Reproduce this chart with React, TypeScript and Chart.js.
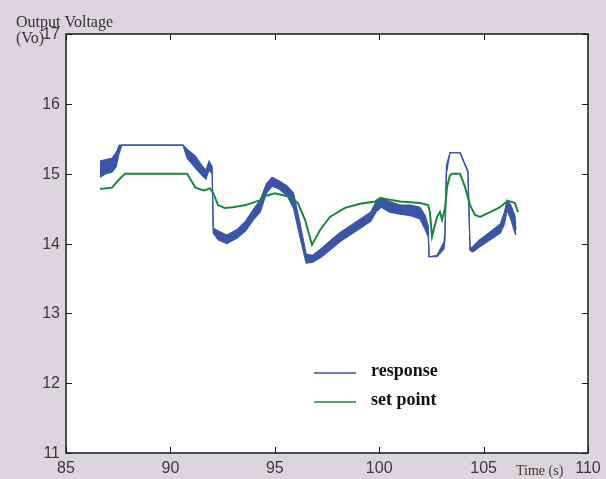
import React, { useEffect, useRef } from "react";
import { Chart, registerables } from "chart.js";

Chart.register(...registerables);

// Response (noisy band: lower / upper envelope)
const responseTime = [86.63, 86.9, 87.2, 87.4, 87.55, 87.68, 90.6, 90.8, 91.2, 91.5, 91.7, 91.85, 92.0, 92.05, 92.3, 92.7, 93.2, 93.6, 94.0, 94.3, 94.6, 94.87, 95.2, 95.6, 95.9, 96.2, 96.5, 96.8, 97.2, 97.7, 98.1, 98.6, 99.1, 99.6, 99.85, 100.1, 100.5, 101.0, 101.5, 101.95, 102.2, 102.35, 102.39, 102.77, 103.1, 103.15, 103.22, 103.39, 103.87, 104.25, 104.35, 104.5, 104.8, 105.3, 105.8, 106.0, 106.12, 106.3, 106.5, 106.55];
const responseLow = [14.95, 15.0, 15.02, 15.1, 15.3, 15.41, 15.41, 15.22, 15.08, 14.98, 14.92, 15.05, 15.0, 14.15, 14.05, 14.0, 14.08, 14.18, 14.35, 14.45, 14.72, 14.82, 14.78, 14.68, 14.5, 14.1, 13.72, 13.73, 13.8, 13.92, 14.02, 14.12, 14.22, 14.32, 14.45, 14.52, 14.45, 14.42, 14.4, 14.35, 14.2, 14.1, 13.81, 13.81, 13.92, 14.05, 15.0, 15.3, 15.3, 15.02, 13.9, 13.88, 13.95, 14.05, 14.15, 14.28, 14.48, 14.35, 14.15, 14.12];
const responseHigh = [15.18, 15.2, 15.22, 15.3, 15.41, 15.41, 15.41, 15.35, 15.25, 15.12, 15.05, 15.18, 15.1, 14.22, 14.18, 14.12, 14.2, 14.32, 14.5, 14.62, 14.86, 14.95, 14.9, 14.82, 14.72, 14.3, 13.85, 13.83, 13.92, 14.05, 14.15, 14.25, 14.35, 14.45, 14.6, 14.66, 14.6, 14.55, 14.55, 14.52, 14.4, 14.25, 13.81, 13.83, 14.02, 14.15, 15.12, 15.3, 15.3, 15.04, 13.92, 13.96, 14.05, 14.16, 14.28, 14.45, 14.62, 14.55, 14.4, 14.2];

// Set point
const setTime = [86.63, 87.2, 87.55, 87.83, 90.8, 91.0, 91.2, 91.6, 91.9, 92.05, 92.28, 92.6, 93.0, 93.6, 94.3, 94.4, 95.0, 95.7, 96.1, 96.45, 96.78, 97.16, 97.64, 98.36, 99.08, 99.8, 100.04, 101.0, 101.95, 102.34, 102.43, 102.53, 102.77, 102.91, 103.01, 103.15, 103.25, 103.39, 103.5, 103.87, 104.11, 104.35, 104.59, 104.83, 105.31, 105.79, 106.02, 106.17, 106.5, 106.65];
const setValue = [14.78, 14.8, 14.92, 15.0, 15.0, 14.9, 14.8, 14.76, 14.79, 14.72, 14.55, 14.51, 14.52, 14.55, 14.62, 14.67, 14.72, 14.67, 14.58, 14.34, 13.98, 14.19, 14.38, 14.51, 14.57, 14.6, 14.65, 14.6, 14.58, 14.55, 14.45, 14.1, 14.38, 14.45, 14.34, 14.5, 14.81, 14.98, 15.0, 15.0, 14.81, 14.55, 14.41, 14.38, 14.45, 14.52, 14.58, 14.61, 14.58, 14.45];

const xTicks = [85, 90, 95, 100, 105, 110];
const yTicks = [11, 12, 13, 14, 15, 16, 17];
const legendLabels = ["response", "set point"];
const yTitle = ["Output Voltage", "(Vo)"];
const xTitle = "Time (s)";

const BLUE = "#3b55a6";
const GREEN = "#17893a";
const BG = "#dbd6dd";

const decorPlugin = {
  id: "decor",
  beforeDraw(chart: any) {
    const { ctx, chartArea: a } = chart;
    ctx.save();
    ctx.fillStyle = BG;
    ctx.fillRect(0, 0, chart.width, chart.height);
    ctx.fillStyle = "#ffffff";
    ctx.fillRect(a.left, a.top, a.right - a.left, a.bottom - a.top);
    ctx.restore();
  },
  afterDraw(chart: any) {
    const { ctx, chartArea: a } = chart;
    const xs = chart.scales.x;
    const ys = chart.scales.y;
    ctx.save();
    // border
    ctx.strokeStyle = "#1a1a1a";
    ctx.lineWidth = 1.5;
    ctx.strokeRect(a.left, a.top, a.right - a.left, a.bottom - a.top);
    // ticks
    ctx.lineWidth = 1;
    const tl = 6;
    ctx.beginPath();
    xTicks.forEach((v) => {
      const px = Math.round(xs.getPixelForValue(v)) + 0.5;
      ctx.moveTo(px, a.bottom);
      ctx.lineTo(px, a.bottom - tl);
      ctx.moveTo(px, a.top);
      ctx.lineTo(px, a.top + tl);
    });
    yTicks.forEach((v) => {
      const py = Math.round(ys.getPixelForValue(v)) + 0.5;
      ctx.moveTo(a.left, py);
      ctx.lineTo(a.left + tl, py);
      ctx.moveTo(a.right, py);
      ctx.lineTo(a.right - tl, py);
    });
    ctx.stroke();
    // tick labels
    ctx.fillStyle = "#3a3a3a";
    ctx.font = '16px "Liberation Sans", Arial, sans-serif';
    ctx.textAlign = "center";
    ctx.textBaseline = "alphabetic";
    xTicks.forEach((v) => {
      ctx.fillText(String(v), xs.getPixelForValue(v), a.bottom + 20);
    });
    ctx.textAlign = "right";
    yTicks.forEach((v) => {
      ctx.fillText(String(v), a.left - 6, ys.getPixelForValue(v) + 5);
    });
    // titles
    ctx.font = '16px "Liberation Serif", "Times New Roman", serif';
    ctx.textAlign = "left";
    ctx.fillStyle = "#333333";
    ctx.fillText(yTitle[0], 16, 27);
    ctx.fillText(yTitle[1], 16, 43);
    ctx.font = '14px "Liberation Serif", "Times New Roman", serif';
    ctx.fillStyle = "#4a3428";
    ctx.fillText(xTitle, 516, 475);
    // legend
    const items = [
      { label: legendLabels[0], color: BLUE, y: 373 },
      { label: legendLabels[1], color: GREEN, y: 402 },
    ];
    ctx.font = 'bold 18px "Liberation Serif", "Times New Roman", serif';
    items.forEach((it) => {
      ctx.strokeStyle = it.color;
      ctx.lineWidth = 1.3;
      ctx.beginPath();
      ctx.moveTo(314, it.y);
      ctx.lineTo(356, it.y);
      ctx.stroke();
      ctx.fillStyle = "#111111";
      ctx.fillText(it.label, 371, it.y + 3);
    });
    ctx.restore();
  },
};

export default function App() {
  const ref = useRef<HTMLCanvasElement | null>(null);
  useEffect(() => {
    document.body.style.margin = "0";
    if (!ref.current) return;
    const chart = new Chart(ref.current, {
      type: "line",
      data: {
        datasets: [
          {
            label: "set point",
            data: setTime.map((t, i) => ({ x: t, y: setValue[i] })),
            borderColor: GREEN,
            borderWidth: 2,
            pointRadius: 0,
            fill: false,
            tension: 0,
          },
          {
            label: "response high",
            data: responseTime.map((t, i) => ({ x: t, y: responseHigh[i] })),
            borderColor: BLUE,
            borderWidth: 1.2,
            pointRadius: 0,
            fill: false,
            tension: 0,
          },
          {
            label: "response",
            data: responseTime.map((t, i) => ({ x: t, y: responseLow[i] })),
            borderColor: BLUE,
            backgroundColor: BLUE,
            borderWidth: 1.2,
            pointRadius: 0,
            fill: "-1",
            tension: 0,
          },
        ],
      },
      options: {
        responsive: false,
        animation: false,
        layout: { padding: { left: 66, top: 34, right: 18, bottom: 26 } },
        scales: {
          x: { type: "linear", min: 85, max: 110, display: false },
          y: { type: "linear", min: 11, max: 17, display: false },
        },
        plugins: {
          legend: { display: false },
          tooltip: { enabled: false },
        },
      },
      plugins: [decorPlugin],
    });
    return () => chart.destroy();
  }, []);
  return (
    <div style={{ width: 606, height: 479 }}>
      <canvas ref={ref} width={606} height={479} />
    </div>
  );
}
